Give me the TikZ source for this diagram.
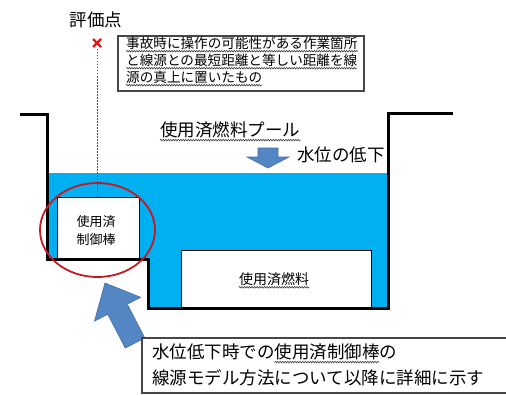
\documentclass[tikz,border=0pt]{standalone}
\usepackage{fontspec}
\newfontfamily\jp{Noto Sans CJK JP}
\usetikzlibrary{decorations.pathmorphing,calc}
\definecolor{water}{RGB}{0,176,240}
\definecolor{arrowblue}{RGB}{84,134,196}
\definecolor{arrowedge}{RGB}{65,110,170}
\definecolor{ringred}{RGB}{200,25,35}
\definecolor{xred}{RGB}{235,20,20}
\definecolor{boxgray}{RGB}{70,70,70}
\tikzset{
  wall/.style={line width=3pt, line join=miter},
  whitebox/.style={draw=black, fill=white, line width=0.8pt},
  callout/.style={draw=boxgray, fill=white, line width=1.3pt},
  txtL/.style={font=\jp\fontsize{17.5}{20}\selectfont, inner sep=0pt},
  txtM/.style={font=\jp\fontsize{14}{16}\selectfont, inner sep=0pt},
  txtS/.style={font=\jp\fontsize{13}{15}\selectfont, inner sep=0pt},
  txtT/.style={font=\jp\fontsize{13.6}{15}\selectfont, inner sep=0pt},
  wavy/.style={draw=black!75, line width=0.6pt, decorate,
    decoration={snake, segment length=2.5pt, amplitude=0.8pt}},
  bluearrow/.style={fill=arrowblue, draw=arrowedge, line width=0.6pt, line join=miter},
}
\begin{document}
\begin{tikzpicture}[x=1pt, y=-1pt]
\useasboundingbox (0,0) rectangle (506,396);
\clip (0,0) rectangle (506,396);
\fill[white] (0,0) rectangle (506,396);

% water
\fill[water] (47,173) -- (388,173) -- (388,308) -- (148,308) -- (148,259) -- (47,259) -- cycle;

% boxes in the pool
\draw[whitebox] (57,197) rectangle (139,258);
\draw[whitebox] (181,250) rectangle (371,308);

% pool outline
\draw[wall] (20,114) -- (47,114) -- (47,259) -- (148,259) -- (148,308) -- (388,308) -- (388,113) -- (453,113);

% evaluation point and dotted line
\coordinate (xp) at (97,43);
\coordinate (rodtop) at (97,197);
\draw[xred, dash pattern=on 1.5pt off 1.5pt, line width=0.7pt] ($(xp)+(0,6)$) -- (rodtop);
\draw[xred, line width=2.3pt] ($(xp)+(-4,-4)$) -- ($(xp)+(4,4)$) ($(xp)+(-4,4)$) -- ($(xp)+(4,-4)$);
\node[txtL] (evalpt) at (96,20) {評価点};

% top callout
\draw[callout] (118,36) rectangle (364,91);
\node[txtT, anchor=west] (t1) at (126,43) {事故時に操作の可能性がある作業箇所};
\node[txtT, anchor=west] (t2) at (126,60) {と線源との最短距離と等しい距離を線};
\node[txtT, anchor=west] (t3) at (126,77) {源の真上に置いたもの};
\draw[wavy] ($(t1.base west)+(0,3)$) -- ($(t1.base east)+(0,3)$);
\draw[wavy] ($(t2.base west)+(0,3)$) -- ($(t2.base east)+(0,3)$);
\draw[wavy] ($(t3.base west)+(0,3)$) -- ($(t3.base east)+(0,3)$);

% pool label
\node[txtL, anchor=west] (pool) at (160,130) {使用済燃料プール};
\draw[wavy] ($(pool.base west)+(0,3.5)$) -- ($(pool.base east)+(0,3.5)$);

% water level arrow
\draw[bluearrow] (258,148) -- (278,148) -- (278,157) -- (289,157) -- (268,168) -- (247,157) -- (258,157) -- cycle;
\node[txtL, anchor=west] (level) at (297,155) {水位の低下};

% control rod
\node[txtS] (rod1) at (96,222) {使用済};
\node[txtS] (rod2) at (96,240) {制御棒};

% spent fuel
\node[txtM] (fuel) at (274,279) {使用済燃料};
\draw[wavy] ($(fuel.base west)+(0,3)$) -- ($(fuel.base east)+(0,3)$);

% red ring
\draw[ringred, line width=1.8pt] (97.5,230) ellipse [x radius=57.5, y radius=47];

% big arrow
\draw[bluearrow] (144.78,337.95) -- (127.35,304.18) -- (140.68,297.3) -- (105,283)
  -- (94.46,321.16) -- (107.79,314.28) -- (125.22,348.05) -- cycle;

% bottom callout
\draw[callout] (142,338) rectangle (530,393);
\node[txtL, anchor=west] (b1) at (152,352) {水位低下時での使用済制御棒の};
\node[txtL, anchor=west] (b2) at (152,378) {線源モデル方法について以降に詳細に示す};
\draw[wavy] ($(b1.base west)+(7*17.5,3.5)$) -- ($(b1.base west)+(13*17.5,3.5)$);
\end{tikzpicture}
\end{document}
